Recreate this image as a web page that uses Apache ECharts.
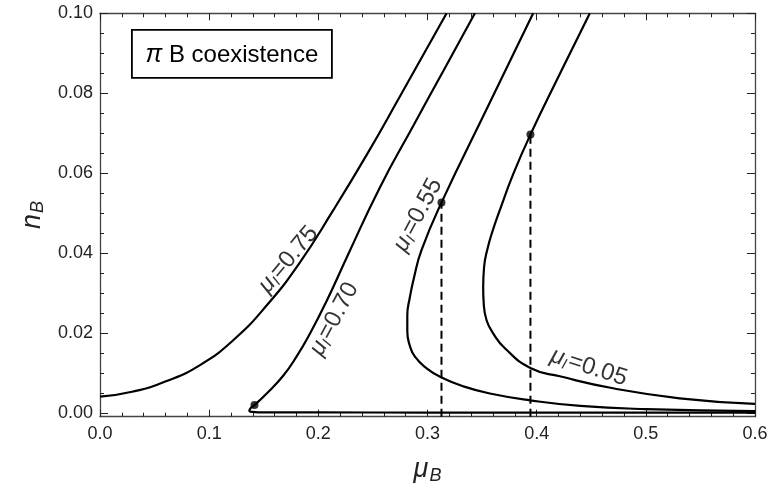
<!DOCTYPE html>
<html>
<head>
<meta charset="utf-8">
<script src="https://cdn.jsdelivr.net/npm/echarts@6/dist/echarts.min.js"></script>
<style>
  html, body { margin: 0; padding: 0; background: #fff; }
  #main { width: 781px; height: 492px; }
</style>
</head>
<body>
<div id="main"></div>
<script>
// curves (mu_B, n_B)
const curve075 = [[0, 0.0042], [0.0305, 0.0055], [0.061, 0.0081], [0.0916, 0.0121], [0.122, 0.0183],
  [0.153, 0.0271], [0.183, 0.0377], [0.2137, 0.0508], [0.2447, 0.0648], [0.2747, 0.0792], [0.3175, 0.10]]
const curve070 = [[0.6, 0.0002], [0.45, 0.0002], [0.3, 0.0002], [0.2, 0.0003], [0.145, 0.0003], [0.1395, 0.0004],
  [0.1368, 0.0007], [0.1385, 0.0015], [0.1415, 0.0021], [0.152, 0.0048], [0.168, 0.0095], [0.18, 0.0142],
  [0.192, 0.0198], [0.2076, 0.0281], [0.2274, 0.0398], [0.2564, 0.0565], [0.287, 0.0719], [0.3175, 0.0871],
  [0.3434, 0.10]]
const curve055 = [[0.6, 0.0006], [0.5, 0.0011], [0.44, 0.0019], [0.3938, 0.0033], [0.3571, 0.005], [0.3327, 0.0068],
  [0.3129, 0.009], [0.2992, 0.0113], [0.2885, 0.0142], [0.2835, 0.0172], [0.2815, 0.0205], [0.2815, 0.0245],
  [0.2838, 0.029], [0.2875, 0.0338], [0.2945, 0.0408], [0.3128, 0.0527], [0.355, 0.0765], [0.3968, 0.10]]
const curve005 = [[0.6, 0.0024], [0.531, 0.0038], [0.47, 0.0063], [0.4212, 0.0093], [0.3947, 0.0113], [0.3709, 0.0163],
  [0.36, 0.0201], [0.3541, 0.0233], [0.3515, 0.0275], [0.351, 0.0315], [0.3518, 0.0365], [0.3548, 0.041],
  [0.3595, 0.0455], [0.3665, 0.051], [0.3785, 0.0598], [0.3943, 0.0697], [0.4215, 0.085], [0.4487, 0.10]]

// marked points, the last two get a dashed drop line
const dots = [[0.1415, 0.0021], [0.3128, 0.0527], [0.3943, 0.0697]]
const dropDots = [dots[1], dots[2]]

// curve labels
const labelText = ['0.75', '0.70', '0.55', '0.05']
const labelAt = [[0.1725, 0.0385], [0.2145, 0.0236], [0.2912, 0.0496], [0.4478, 0.0116]]
const labelAngle = [50, 62, 62, -18]

// axes
const xMin = 0, xMax = 0.6, xStep = 0.1
const yMin = -0.0008, yMax = 0.1
const yMajor = [0, 0.02, 0.04, 0.06, 0.08, 0.10]
const yMinor = [0.005, 0.01, 0.015, 0.025, 0.03, 0.035, 0.045, 0.05, 0.055, 0.065, 0.07, 0.075, 0.085, 0.09, 0.095]

const font = "'Liberation Sans', Arial, sans-serif"
const frameColor = '#444'

const chart = echarts.init(document.getElementById('main'))

const curveStyle = { color: '#000', width: 2.2 }
const makeCurve = (data) => ({
  type: 'line',
  data: data,
  showSymbol: false,
  smooth: 0.5,
  lineStyle: curveStyle,
  silent: true
})

const xAxisBase = (pos) => ({
  type: 'value',
  position: pos,
  min: xMin,
  max: xMax,
  interval: xStep,
  axisLine: { show: true, onZero: false, lineStyle: { color: frameColor, width: 1.3 } },
  axisTick: { show: true, inside: true, length: 7, lineStyle: { color: '#222' } },
  minorTick: { show: true, splitNumber: 5, length: 4, lineStyle: { color: '#222' } },
  splitLine: { show: false },
  axisLabel: { show: false }
})

const yAxisBase = (pos, ticks, len, line) => ({
  type: 'value',
  position: pos,
  min: yMin,
  max: yMax,
  axisLine: { show: line, onZero: false, lineStyle: { color: frameColor, width: 1.3 } },
  axisTick: { show: true, inside: true, length: len, customValues: ticks, lineStyle: { color: '#222' } },
  splitLine: { show: false },
  axisLabel: { show: false }
})

const xBottom = xAxisBase('bottom')
xBottom.axisLabel = {
  show: true, margin: 8, fontSize: 18, color: '#222', fontFamily: font,
  formatter: (v) => v.toFixed(1)
}
xBottom.name = '{m|μ}{s|B}'
xBottom.nameLocation = 'middle'
xBottom.nameGap = 38
xBottom.nameTextStyle = {
  rich: {
    m: { fontSize: 27, fontStyle: 'italic', fontFamily: font, color: '#222' },
    s: { fontSize: 18, fontStyle: 'italic', fontFamily: font, color: '#222', padding: [12, 0, 0, 1] }
  }
}

const yLeft = yAxisBase('left', yMajor, 8, true)
yLeft.axisLabel = {
  show: true, margin: 7, fontSize: 18, color: '#222', fontFamily: font,
  customValues: yMajor,
  formatter: (v) => v.toFixed(2)
}
yLeft.name = '{m|n}{s|B}'
yLeft.nameLocation = 'middle'
yLeft.nameRotate = 90
yLeft.nameGap = 52
yLeft.nameTextStyle = {
  rich: {
    m: { fontSize: 27, fontStyle: 'italic', fontFamily: font, color: '#222' },
    s: { fontSize: 18, fontStyle: 'italic', fontFamily: font, color: '#222', padding: [12, 0, 0, 1] }
  }
}

const labelSeries = {
  type: 'scatter',
  symbolSize: 0,
  silent: true,
  z: 5,
  data: labelAt.map((p, i) => ({
    value: p,
    label: {
      show: true,
      position: 'inside',
      rotate: labelAngle[i],
      formatter: '{m|μ}{s|I}{t|=' + labelText[i] + '}',
      rich: {
        m: { fontSize: 24, fontStyle: 'italic', fontFamily: font, color: '#000' },
        s: { fontSize: 15, fontStyle: 'italic', fontFamily: font, color: '#000', padding: [11, 1, 0, 0] },
        t: { fontSize: 24, fontFamily: font, color: '#000' }
      }
    }
  }))
}

const dropSeries = dropDots.map((d) => ({
  type: 'line',
  data: [[d[0], yMin], [d[0], d[1]]],
  showSymbol: false,
  silent: true,
  lineStyle: { color: '#000', width: 2, type: [8, 5] }
}))

const option = {
  animation: false,
  backgroundColor: '#fff',
  grid: { left: 100, right: 26, top: 13.3, bottom: 75.3 },
  xAxis: [xBottom, xAxisBase('top')],
  yAxis: [
    yLeft,
    yAxisBase('left', yMinor, 4, false),
    yAxisBase('right', yMajor, 8, true),
    yAxisBase('right', yMinor, 4, false)
  ],
  graphic: [
    {
      type: 'group',
      left: 131,
      top: 29,
      children: [
        {
          type: 'rect',
          shape: { x: 0, y: 0, width: 200, height: 48 },
          style: { fill: '#fff', stroke: '#000', lineWidth: 1.8 }
        },
        {
          type: 'text',
          x: 100,
          y: 25,
          style: {
            text: '{p|π}{b| B coexistence}',
            align: 'center',
            verticalAlign: 'middle',
            rich: {
              p: { fontSize: 25, fontStyle: 'italic', fontFamily: font, fill: '#000' },
              b: { fontSize: 24, fontFamily: font, fill: '#000' }
            }
          }
        }
      ]
    }
  ],
  series: [
    makeCurve(curve075),
    makeCurve(curve070),
    makeCurve(curve055),
    makeCurve(curve005),
    ...dropSeries,
    {
      type: 'scatter',
      data: dots,
      symbolSize: 8,
      itemStyle: { color: '#000' },
      silent: true,
      z: 4
    },
    labelSeries
  ]
}

chart.setOption(option)
</script>
</body>
</html>
